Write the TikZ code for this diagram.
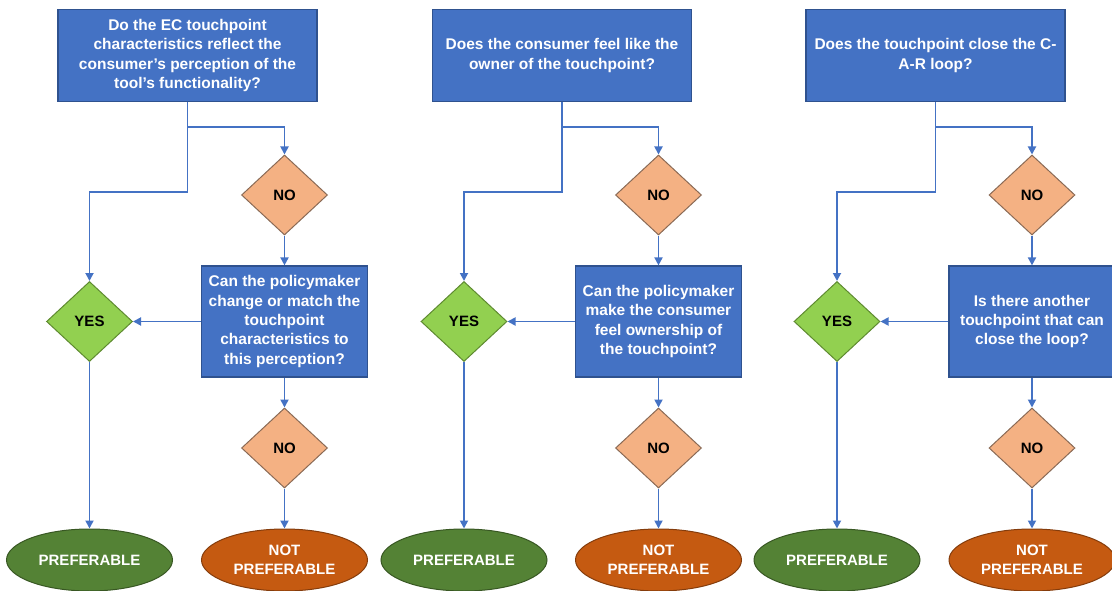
\documentclass[tikz,border=0pt]{standalone}
\usepackage{fontspec}
\setmainfont{Liberation Sans}
\usetikzlibrary{positioning,arrows.meta,shapes.geometric}

\definecolor{qfill}{HTML}{4472C4}
\definecolor{qedge}{HTML}{2F528F}
\definecolor{nofill}{HTML}{F4B183}
\definecolor{noedge}{HTML}{8A6A55}
\definecolor{yesfill}{HTML}{92D050}
\definecolor{yesedge}{HTML}{5E8A30}
\definecolor{goodfill}{HTML}{548235}
\definecolor{goodedge}{HTML}{385723}
\definecolor{badfill}{HTML}{C55A11}
\definecolor{badedge}{HTML}{843C0C}
\definecolor{flowblue}{HTML}{4472C4}

\begin{document}
\begin{tikzpicture}[
    x=1pt, y=-1pt,
    font=\bfseries\fontsize{15.5}{19.3}\selectfont,
    >={Triangle[length=8pt,width=8pt]},
    question/.style={draw=qedge, fill=qfill, text=white, align=center,
                     line width=1.2pt, inner sep=2pt},
    topq/.style    ={question, minimum width=259pt, minimum height=92pt},
    askq/.style    ={question, minimum width=166pt, minimum height=111pt},
    nobox/.style   ={diamond, draw=noedge, fill=nofill, line width=1pt,
                     minimum width=86pt, minimum height=80pt, inner sep=0pt,
                     font=\bfseries\fontsize{15}{17}\selectfont},
    yesbox/.style  ={nobox, draw=yesedge, fill=yesfill},
    good/.style    ={ellipse, draw=goodedge, fill=goodfill, text=white,
                     line width=1pt, minimum width=166pt, minimum height=62pt,
                     inner sep=0pt, align=center,
                     font=\bfseries\fontsize{15}{19}\selectfont},
    bad/.style     ={good, draw=badedge, fill=badfill},
    flow/.style    ={->, line width=1.8pt, flowblue},
  ]
  \useasboundingbox (0,0) rectangle (1112,591);

  % ------------------------------------------------------------ panel 1 ---
  \node[topq] (q1) at (187.5,55.5)
        {Do the EC touchpoint\\characteristics reflect the\\
         consumer’s perception of the\\tool’s functionality?};
  \node[nobox]  (no1)   at (284.5,195)   {NO};
  \node[askq]   (ask1)  at (284.5,321.5)
        {Can the policymaker\\change or match the\\touchpoint\\
         characteristics to\\this perception?};
  \node[yesbox] (yes1)  at (89.5,321.5) {YES};
  \node[nobox]  (nono1) at (284.5,448)   {NO};
  \node[good]   (pref1) at (89.5,560)  {PREFERABLE};
  \node[bad]    (npref1) at (284.5,560)  {NOT\\PREFERABLE};
  \coordinate (j1) at (187.5,127);
  \coordinate (k1) at (187.5,192);

  % ------------------------------------------------------------ panel 2 ---
  \node[topq] (q2) at (562,55.5)
        {Does the consumer feel like the\\owner of the touchpoint?};
  \node[nobox]  (no2)   at (658.5,195)   {NO};
  \node[askq]   (ask2)  at (658.5,321.5)
        {Can the policymaker\\make the consumer\\feel ownership of\\
         the touchpoint?};
  \node[yesbox] (yes2)  at (464,321.5) {YES};
  \node[nobox]  (nono2) at (658.5,448)   {NO};
  \node[good]   (pref2) at (464,560)   {PREFERABLE};
  \node[bad]    (npref2) at (658.5,560) {NOT\\PREFERABLE};
  \coordinate (j2) at (562,127);
  \coordinate (k2) at (562,192);

  % ------------------------------------------------------------ panel 3 ---
  \node[topq] (q3) at (935.5,55.5)
        {Does the touchpoint close the C-\\A-R loop?};
  \node[nobox]  (no3)   at (1032,195)  {NO};
  \node[askq]   (ask3)  at (1032,321.5)
        {Is there another\\touchpoint that can\\close the loop?};
  \node[yesbox] (yes3)  at (837,321.5) {YES};
  \node[nobox]  (nono3) at (1032,448)  {NO};
  \node[good]   (pref3) at (837,560)   {PREFERABLE};
  \node[bad]    (npref3) at (1032,560) {NOT\\PREFERABLE};
  \coordinate (j3) at (935.5,127);
  \coordinate (k3) at (935.5,192);

  % ============================================================= edges ===
  \draw[flow] (q1.south) -- (j1) -| (no1.north);
  \draw[flow] (j1) -- (k1) -| (yes1.north);
  \draw[flow] (no1.south) -- (ask1.north);
  \draw[flow] (ask1.west) -- (yes1.east);
  \draw[flow] (ask1.south) -- (nono1.north);
  \draw[flow] (yes1.south) -- (pref1.north);
  \draw[flow] (nono1.south) -- (npref1.north);

  \draw[flow] (q2.south) -- (j2) -| (no2.north);
  \draw[flow] (j2) -- (k2) -| (yes2.north);
  \draw[flow] (no2.south) -- (ask2.north);
  \draw[flow] (ask2.west) -- (yes2.east);
  \draw[flow] (ask2.south) -- (nono2.north);
  \draw[flow] (yes2.south) -- (pref2.north);
  \draw[flow] (nono2.south) -- (npref2.north);

  \draw[flow] (q3.south) -- (j3) -| (no3.north);
  \draw[flow] (j3) -- (k3) -| (yes3.north);
  \draw[flow] (no3.south) -- (ask3.north);
  \draw[flow] (ask3.west) -- (yes3.east);
  \draw[flow] (ask3.south) -- (nono3.north);
  \draw[flow] (yes3.south) -- (pref3.north);
  \draw[flow] (nono3.south) -- (npref3.north);

\end{tikzpicture}
\end{document}
